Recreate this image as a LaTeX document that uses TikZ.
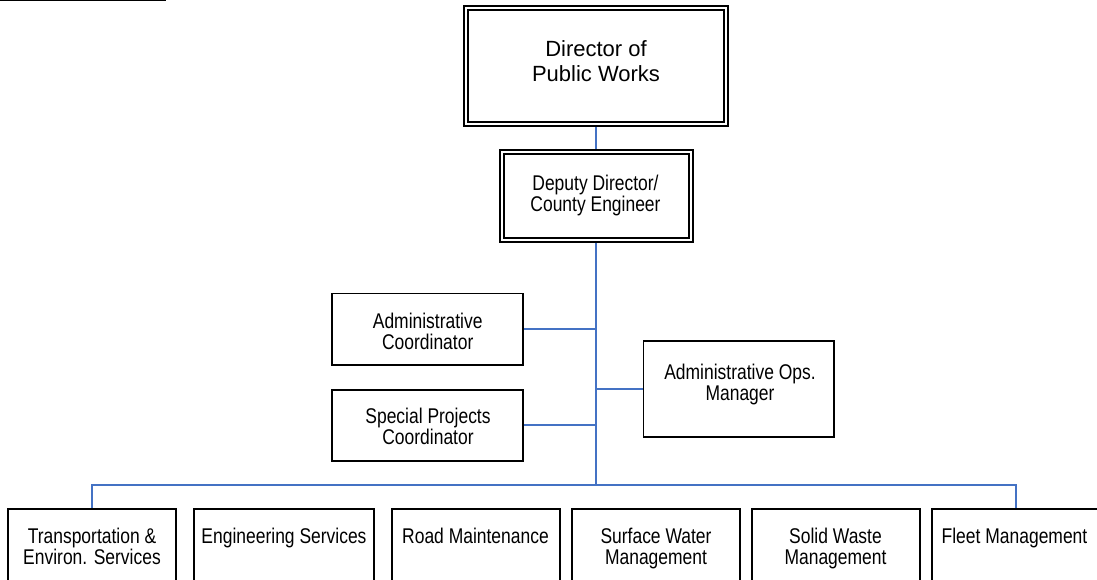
\documentclass[tikz,border=0pt]{standalone}
\usepackage{fontspec}
\setmainfont{Liberation Sans}
\newfontfamily\narrowfont{Liberation Sans}[FakeStretch=0.82]
\usetikzlibrary{backgrounds}

\definecolor{linkblue}{RGB}{68,114,196}

% centred lines, baseline on the first line
\newcommand\stacktext[1]{\vtop{\halign{\hfil##\hfil\cr#1\crcr}}}

\tikzset{
  x=1pt, y=-1pt,
  boxbase/.style={rectangle, inner sep=0pt, outer sep=0pt, fill=white, draw=black},
  plainbox/.style={boxbase, line width=1.8pt},
  doublebox/.style={boxbase, line width=2pt, double=white, double distance=2pt},
  link/.style={draw=linkblue, line width=1.9pt},
  lbl/.style={inner sep=0pt, outer sep=0pt, anchor=base},
  smalltext/.style={lbl, font=\narrowfont\fontsize{21.3}{21}\selectfont},
  bigtext/.style={lbl, font=\fontsize{22}{25}\selectfont},
}

\begin{document}
\begin{tikzpicture}
\useasboundingbox (0,0) rectangle (1097,579);
\clip (0,0) rectangle (1097,579);

% rule at the top left
\coordinate (rule-l) at (0,0.7);
\coordinate (rule-r) at (166,0.7);
\draw[line width=1.3pt] (rule-l) -- (rule-r);

% management
\node[doublebox, minimum width=260, minimum height=116] (dir) at (596,66) {};
\node[bigtext] (dir-t) at (596,56.7) {\stacktext{Director of\cr Public Works}};

\node[doublebox, minimum width=189, minimum height=88] (dep) at (596,196) {};
\node[smalltext] (dep-t) at (595.5,190) {\stacktext{Deputy Director/\cr County Engineer}};

% staff positions
\node[plainbox, minimum width=191, minimum height=71.6] (ac) at (427.5,329.2) {};
\node[smalltext] (ac-t) at (427.7,328) {\stacktext{Administrative\cr Coordinator}};

\node[plainbox, minimum width=191, minimum height=71] (sp) at (427.5,425.2) {};
\node[smalltext] (sp-t) at (428,423) {\stacktext{Special Projects\cr Coordinator}};

\node[plainbox, minimum width=190.5, minimum height=96] (ops) at (738.75,389) {};
\node[smalltext] (ops-t) at (740,379.5) {\stacktext{Administrative Ops.\cr Manager}};

% divisions
\node[plainbox, minimum width=168, minimum height=100] (d1) at (92,559.3) {};
\node[smalltext] (d1-t) at (92,543.3) {\stacktext{Transportation \&\cr Environ. Services}};

\node[plainbox, minimum width=180, minimum height=100] (d2) at (284,559.3) {};
\node[smalltext] (d2-t) at (284,543.3) {\stacktext{Engineering Services}};

\node[plainbox, minimum width=168.3, minimum height=100] (d3) at (475.85,559.3) {};
\node[smalltext] (d3-t) at (475.5,543.3) {\stacktext{Road Maintenance}};

\node[plainbox, minimum width=168.3, minimum height=100] (d4) at (655.85,559.3) {};
\node[smalltext] (d4-t) at (656,543.3) {\stacktext{Surface Water\cr Management}};

\node[plainbox, minimum width=168.3, minimum height=100] (d5) at (835.85,559.3) {};
\node[smalltext] (d5-t) at (835.5,543.3) {\stacktext{Solid Waste\cr Management}};

\node[plainbox, minimum width=168.6, minimum height=100] (d6) at (1016,559.3) {};
\node[smalltext] (d6-t) at (1014.5,543.3) {\stacktext{Fleet Management}};

% reporting lines
\coordinate (busmid) at (596,485);
\begin{scope}[on background layer]
  \draw[link] (dir.south) -- (dep.north);
  \draw[link] (dep.south) -- (busmid);
  \draw[link] (ac.east) -- (ac.east -| busmid);
  \draw[link] (sp.east) -- (sp.east -| busmid);
  \draw[link] (ops.west) -- (ops.west -| busmid);
  \draw[link] (d1.north) |- (busmid) -| (d6.north);
\end{scope}
\end{tikzpicture}
\end{document}
